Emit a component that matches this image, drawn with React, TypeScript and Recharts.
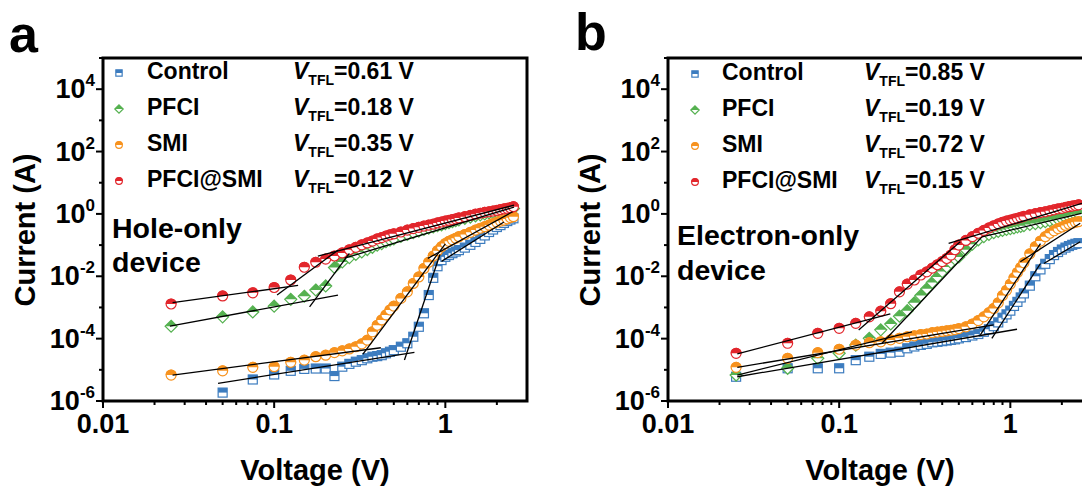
import React from 'react';
import { ScatterChart, Scatter, XAxis, YAxis, ReferenceArea } from 'recharts';

// ---------- data ----------
const voltage = [
  0.025, 0.05, 0.075, 0.1, 0.125, 0.15, 0.175, 0.2, 0.225, 0.25, 0.275, 0.3, 0.325, 0.35, 0.375, 0.4, 0.425, 0.45, 0.475, 0.5,
  0.55, 0.6, 0.65, 0.7, 0.75, 0.8, 0.85, 0.9, 0.95, 1.0, 1.05, 1.1, 1.15, 1.2,
  1.3, 1.4, 1.5, 1.6, 1.7, 1.8, 1.9, 2.0, 2.1, 2.2, 2.3, 2.4, 2.5,
];

// Panel a: hole-only device, current (A)
const holeControl = [
  null, 1.86e-6, 4.9e-6, 7.1e-6, 9.3e-6, 1.07e-5, 1.1e-5, 1.1e-5, 6.3e-6, 1.26e-5, 1.55e-5, 1.82e-5, 2.04e-5, 2.34e-5, 2.63e-5, 2.75e-5, 2.95e-5, 3.39e-5, 3.8e-5, 4.27e-5,
  5.5e-5, 7.1e-5, 1.15e-4, 2.4e-4, 6.5e-4, 2.5e-3, 8.9e-3, 2.1e-2, 3.3e-2, 4.2e-2, 4.8e-2, 5.5e-2, 6.2e-2, 6.9e-2,
  8.3e-2, 0.102, 0.126, 0.158, 0.204, 0.263, 0.316, 0.38, 0.437, 0.513, 0.589, 0.661, 0.724,
];
const holePFCI = [
  2.5e-4, 5.0e-4, 7.2e-4, 1.1e-3, 1.82e-3, 2.29e-3, 3.63e-3, 4.9e-3, 1.91e-2, 2.88e-2, 3.98e-2, 5.0e-2, 6.0e-2, 7.2e-2, 8.5e-2, 0.1, 0.112, 0.129, 0.145, 0.158,
  0.191, 0.219, 0.251, 0.282, 0.316, 0.347, 0.38, 0.417, 0.447, 0.49, 0.525, 0.562, 0.603, 0.646,
  0.724, 0.794, 0.871, 0.933, 1.0, 1.07, 1.12, 1.17, 1.23, 1.29, 1.35, 1.41, 1.48,
];
const holeSMI = [
  6.8e-6, 9.3e-6, 1.2e-5, 1.26e-5, 1.74e-5, 2.04e-5, 2.63e-5, 2.95e-5, 3.55e-5, 4.07e-5, 4.68e-5, 5.5e-5, 6.8e-5, 8.9e-5, 1.66e-4, 2.69e-4, 3.98e-4, 5.75e-4, 8.3e-4, 1.1e-3,
  1.95e-3, 3.16e-3, 5.9e-3, 9.5e-3, 1.78e-2, 2.82e-2, 4.47e-2, 6.6e-2, 8.9e-2, 0.112, 0.132, 0.148, 0.166, 0.186,
  0.219, 0.257, 0.302, 0.347, 0.389, 0.437, 0.49, 0.537, 0.589, 0.631, 0.692, 0.759, 0.813,
];
const holePFCISMI = [
  1.29e-3, 2.34e-3, 2.95e-3, 4.37e-3, 7.6e-3, 1.95e-2, 2.82e-2, 3.55e-2, 4.47e-2, 5.6e-2, 7.1e-2, 8.5e-2, 0.102, 0.117, 0.135, 0.158, 0.174, 0.195, 0.214, 0.229,
  0.263, 0.302, 0.339, 0.372, 0.407, 0.437, 0.468, 0.513, 0.55, 0.589, 0.617, 0.661, 0.692, 0.741,
  0.813, 0.891, 0.977, 1.05, 1.12, 1.17, 1.23, 1.29, 1.38, 1.45, 1.51, 1.58, 1.7,
];

// Panel b: electron-only device, current (A)
const electronControl = [
  6.0e-6, 1.12e-5, 1.12e-5, 1.12e-5, 2.04e-5, 2.63e-5, 3.24e-5, 3.55e-5, 3.8e-5, 4.9e-5, 5.6e-5, 6.3e-5, 6.8e-5, 7.6e-5, 7.9e-5, 8.3e-5, 8.7e-5, 9.1e-5, 9.5e-5, 1.02e-4,
  1.12e-4, 1.26e-4, 1.41e-4, 1.66e-4, 2.0e-4, 2.51e-4, 3.31e-4, 4.68e-4, 6.0e-4, 7.9e-4, 1.12e-3, 1.51e-3, 2.09e-3, 2.82e-3,
  5.0e-3, 1.0e-2, 1.66e-2, 2.51e-2, 3.55e-2, 4.79e-2, 6.0e-2, 7.2e-2, 8.3e-2, 9.3e-2, 0.102, 0.11, 0.115,
];
const electronPFCI = [
  6.8e-6, 1.12e-5, 2.34e-5, 3.39e-5, 6.2e-5, 1.02e-4, 1.91e-4, 2.95e-4, 5.25e-4, 7.9e-4, 1.41e-3, 2.4e-3, 3.98e-3, 6.3e-3, 9.5e-3, 1.41e-2, 2.0e-2, 2.75e-2, 3.55e-2, 4.17e-2,
  7.1e-2, 0.107, 0.148, 0.186, 0.219, 0.251, 0.275, 0.295, 0.316, 0.339, 0.355, 0.38, 0.398, 0.417,
  0.457, 0.49, 0.525, 0.562, 0.603, 0.646, 0.676, 0.708, 0.759, 0.813, 0.871, 0.933, 1.0,
];
const electronSMI = [
  1.2e-5, 2.34e-5, 3.55e-5, 4.57e-5, 6.2e-5, 7.4e-5, 7.9e-5, 9.1e-5, 1.02e-4, 1.15e-4, 1.23e-4, 1.35e-4, 1.41e-4, 1.55e-4, 1.62e-4, 1.7e-4, 1.78e-4, 1.86e-4, 1.95e-4, 2.09e-4,
  2.4e-4, 2.95e-4, 3.8e-4, 5.0e-4, 6.8e-4, 9.3e-4, 1.41e-3, 2.4e-3, 3.55e-3, 5.6e-3, 8.9e-3, 1.32e-2, 1.91e-2, 2.69e-2,
  5.25e-2, 8.9e-2, 0.135, 0.186, 0.24, 0.288, 0.339, 0.38, 0.427, 0.468, 0.5, 0.537, 0.562,
];
const electronPFCISMI = [
  3.39e-5, 7.1e-5, 1.48e-4, 2.14e-4, 3.09e-4, 5.0e-4, 7.6e-4, 1.32e-3, 3.16e-3, 5.6e-3, 7.6e-3, 1.1e-2, 1.38e-2, 1.82e-2, 2.34e-2, 2.95e-2, 3.72e-2, 4.79e-2, 7.1e-2, 0.1,
  0.141, 0.186, 0.24, 0.295, 0.355, 0.417, 0.479, 0.537, 0.589, 0.631, 0.676, 0.724, 0.776, 0.832,
  0.933, 1.02, 1.1, 1.17, 1.26, 1.35, 1.45, 1.51, 1.62, 1.7, 1.78, 1.86, 1.95,
];

// Linear-fit segments [voltage, current] (order: Control, SMI, PFCI, PFCI@SMI; low / steep / high)
const holeFits: [number, number][][] = [
  [[0.047, 3.7e-6], [0.66, 3.6e-5]],
  [[0.577, 2.06e-5], [0.93, 5.0e-2]],
  [[0.95, 3.0e-2], [2.2, 0.55]],
  [[0.0255, 6.8e-6], [0.42, 5.1e-5]],
  [[0.33, 3.2e-5], [1.0, 0.11]],
  [[0.79, 3.75e-2], [2.47, 1.17]],
  [[0.0246, 2.5e-4], [0.236, 2.5e-3]],
  [[0.161, 1.05e-3], [0.275, 5.4e-2]],
  [[0.258, 3.8e-2], [2.52, 1.66]],
  [[0.0255, 1.42e-3], [0.138, 5.1e-3]],
  [[0.104, 2.5e-3], [0.236, 6.9e-2]],
  [[0.18, 4.43e-2], [2.52, 1.9]],
];
const electronFits: [number, number][][] = [
  [[0.0254, 6.0e-6], [1.094, 2.0e-4]],
  [[0.78, 1.02e-4], [1.5, 2.57e-2]],
  [[1.57, 2.57e-2], [2.56, 0.128]],
  [[0.0254, 1.2e-5], [0.8, 2.75e-4]],
  [[0.668, 1.32e-4], [1.5, 0.112]],
  [[1.144, 2.92e-2], [2.56, 0.5]],
  [[0.0254, 6.8e-6], [0.266, 1.66e-4]],
  [[0.178, 7.1e-5], [0.683, 0.184]],
  [[0.683, 0.184], [2.6, 1.04]],
  [[0.0254, 3.24e-5], [0.199, 6.2e-4]],
  [[0.13, 1.9e-4], [0.51, 0.128]],
  [[0.436, 0.113], [2.62, 2.17]],
];

const seriesNames = ['Control', 'PFCI', 'SMI', 'PFCI@SMI'];
const holeVtfl = ['0.61', '0.18', '0.35', '0.12'];
const electronVtfl = ['0.85', '0.19', '0.72', '0.15'];

const xTicks = [0.01, 0.02, 0.03, 0.04, 0.05, 0.06, 0.07, 0.08, 0.09, 0.1, 0.2, 0.3, 0.4, 0.5, 0.6, 0.7, 0.8, 0.9, 1, 2];
const xTickLabels: Record<string, string> = { '0.01': '0.01', '0.1': '0.1', '1': '1' };
const yTicks = [1e-6, 1e-5, 1e-4, 1e-3, 1e-2, 1e-1, 1, 1e1, 1e2, 1e3, 1e4, 1e5];
const yTickExponents = ['-6', '-5', '-4', '-3', '-2', '-1', '0', '1', '2', '3', '4', '5'];
const yLabelled = ['-6', '-4', '-2', '0', '2', '4'];

// ---------- styling ----------
const FONT = '"Liberation Sans", Arial, Helvetica, sans-serif';
const styles = [
  { kind: 'square', color: '#3c7cbf', size: 9 },
  { kind: 'diamond', color: '#55b150', size: 12 },
  { kind: 'circle', color: '#f7921e', size: 11 },
  { kind: 'circle', color: '#e2262c', size: 11 },
];

function Marker({ cx, cy, kind, color, size }: any) {
  if (cx == null || cy == null || isNaN(cx) || isNaN(cy)) return <g />;
  const r = size / 2;
  if (kind === 'square') {
    return (
      <g>
        <rect x={cx - r} y={cy - r} width={size} height={size} fill="#fff" stroke={color} strokeWidth={1.2} />
        <rect x={cx - r} y={cy - r} width={size} height={r} fill={color} />
      </g>
    );
  }
  if (kind === 'diamond') {
    return (
      <g>
        <polygon points={`${cx},${cy - r} ${cx + r},${cy} ${cx},${cy + r} ${cx - r},${cy}`} fill="#fff" stroke={color} strokeWidth={1.2} />
        <polygon points={`${cx},${cy - r} ${cx + r},${cy} ${cx - r},${cy}`} fill={color} />
      </g>
    );
  }
  return (
    <g>
      <circle cx={cx} cy={cy} r={r - 0.5} fill="#fff" stroke={color} strokeWidth={1.2} />
      <path d={`M${cx - r},${cy} A${r},${r} 0 0 1 ${cx + r},${cy} Z`} fill={color} />
    </g>
  );
}

const renderXTick = (props: any) => {
  const { x, y, payload } = props;
  const key = String(payload.value);
  const label = xTickLabels[key];
  const major = label !== undefined;
  return (
    <g>
      <line x1={x} x2={x} y1={y} y2={y + (major ? 7 : 4)} stroke="#000" strokeWidth={2} />
      {major && (
        <text x={x} y={y + 32} textAnchor="middle" fontSize={27} fontWeight="bold" fontFamily={FONT} fill="#000">
          {label}
        </text>
      )}
    </g>
  );
};

const renderYTick = (props: any) => {
  const { x, y, payload } = props;
  const idx = yTicks.findIndex((t) => Math.abs(Math.log10(t) - Math.log10(payload.value)) < 1e-6);
  const exp = yTickExponents[idx];
  const major = yLabelled.includes(exp);
  return (
    <g>
      <line x1={x} x2={x - (major ? 7 : 4)} y1={y} y2={y} stroke="#000" strokeWidth={2} />
      {major && (
        <text x={x - 8} y={y + 9} textAnchor="end" fontSize={27} fontWeight="bold" fontFamily={FONT} fill="#000">
          10
          <tspan dy={-12} fontSize={17}>
            {exp}
          </tspan>
        </text>
      )}
    </g>
  );
};

const toPoints = (vs: number[], is: (number | null)[]) =>
  vs.map((v, k) => ({ v, i: is[k] })).filter((p) => p.i != null);

function Panel({ left, yWidth, rightMargin, series, fits }: any) {
  return (
    <div style={{ position: 'absolute', left, top: 0 }}>
      <ScatterChart width={540} height={486} margin={{ top: 58, right: rightMargin, bottom: 0, left: 0 }}>
        <XAxis
          type="number"
          dataKey="v"
          scale="log"
          domain={[0.01, 3]}
          allowDataOverflow
          ticks={xTicks}
          interval={0}
          tick={renderXTick}
          tickLine={false}
          tickSize={0}
          tickMargin={0}
          axisLine={false}
          height={85}
        />
        <YAxis
          type="number"
          dataKey="i"
          scale="log"
          domain={[1e-6, 1e5]}
          allowDataOverflow
          ticks={yTicks}
          interval={0}
          tick={renderYTick}
          tickLine={false}
          tickSize={0}
          tickMargin={0}
          axisLine={false}
          width={yWidth}
        />
        {series.map((s: any, k: number) => (
          <Scatter
            key={`s${k}`}
            name={seriesNames[k]}
            data={toPoints(voltage, s)}
            fill={styles[k].color}
            isAnimationActive={false}
            shape={(p: any) => <Marker cx={p.cx} cy={p.cy} kind={styles[k].kind} color={styles[k].color} size={styles[k].size} />}
          />
        ))}
        {fits.map((f: [number, number][], k: number) => (
          <Scatter
            key={`f${k}`}
            data={f.map(([v, i]) => ({ v, i }))}
            fill="#000"
            line={{ stroke: '#000', strokeWidth: 1.3 }}
            isAnimationActive={false}
            shape={() => <g />}
          />
        ))}
        <ReferenceArea x1={0.01} x2={3} y1={1e-6} y2={1e5} fill="none" stroke="#000" strokeWidth={3} ifOverflow="visible" />
      </ScatterChart>
    </div>
  );
}

function LegendBlock({ markerX, textX, vX, baseline, vtfl }: any) {
  return (
    <g>
      {seriesNames.map((name, k) => {
        const by = baseline + k * 36;
        return (
          <g key={name}>
            <Marker cx={markerX} cy={by - 6} kind={styles[k].kind} color={styles[k].color} size={styles[k].size * 0.7} />
            <text x={textX} y={by} fontSize={23} fontWeight="bold">
              {name}
            </text>
            <text x={vX} y={by} fontSize={23} fontWeight="bold">
              <tspan fontStyle="italic">V</tspan>
              <tspan fontSize={14} dy={6}>
                TFL
              </tspan>
              <tspan dy={-6}>{`=${vtfl[k]} V`}</tspan>
            </text>
          </g>
        );
      })}
    </g>
  );
}

export default function App() {
  return (
    <div style={{ position: 'absolute', left: 0, top: 0, width: 1082, height: 486, overflow: 'hidden', background: '#fff' }}>
      <Panel left={0} yWidth={103} rightMargin={13} series={[holeControl, holePFCI, holeSMI, holePFCISMI]} fits={holeFits} />
      <Panel left={560} yWidth={108} rightMargin={8} series={[electronControl, electronPFCI, electronSMI, electronPFCISMI]} fits={electronFits} />
      <svg width={1082} height={486} style={{ position: 'absolute', left: 0, top: 0, pointerEvents: 'none' }} fontFamily={FONT} fill="#000">
        <text x={9} y={52} fontSize={52} fontWeight="bold">a</text>
        <text x={575} y={50} fontSize={52} fontWeight="bold">b</text>

        <LegendBlock markerX={119} textX={147} vX={293} baseline={79} vtfl={holeVtfl} />
        <LegendBlock markerX={695} textX={722} vX={864} baseline={80} vtfl={electronVtfl} />

        <text x={112} y={238} fontSize={28.5} fontWeight="bold">Hole-only</text>
        <text x={112} y={272} fontSize={28.5} fontWeight="bold">device</text>
        <text x={677} y={245} fontSize={28.5} fontWeight="bold">Electron-only</text>
        <text x={677} y={280} fontSize={28.5} fontWeight="bold">device</text>

        <text x={315} y={480} fontSize={29} fontWeight="bold" textAnchor="middle">Voltage (V)</text>
        <text x={880} y={480} fontSize={29} fontWeight="bold" textAnchor="middle">Voltage (V)</text>
        <text transform="translate(35,230) rotate(-90)" fontSize={29} fontWeight="bold" textAnchor="middle">Current (A)</text>
        <text transform="translate(600,230) rotate(-90)" fontSize={29} fontWeight="bold" textAnchor="middle">Current (A)</text>
      </svg>
    </div>
  );
}
